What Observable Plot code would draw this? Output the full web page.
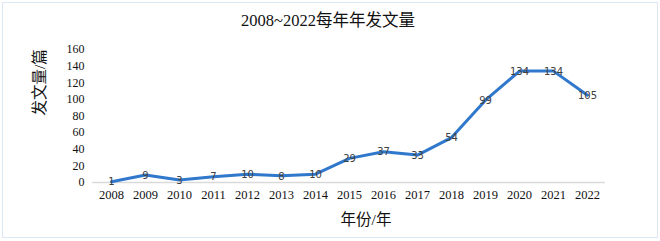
<!DOCTYPE html>
<html>
<head>
<meta charset="utf-8">
<script src="https://cdn.jsdelivr.net/npm/d3@7"></script>
<script src="https://cdn.jsdelivr.net/npm/@observablehq/plot@0.6"></script>
<style>
  html, body { margin: 0; padding: 0; background: #fff; }
  #wrap { position: relative; width: 660px; height: 241px; overflow: hidden; }
  #border { position: absolute; left: 2px; top: 2px; width: 654px; height: 234px; border: 1.5px solid #dce8f4; pointer-events: none; }
</style>
</head>
<body>
<div id="wrap"><div id="border"></div></div>
<script>
const years = ["2008","2009","2010","2011","2012","2013","2014","2015","2016","2017","2018","2019","2020","2021","2022"];
const counts = [1, 9, 3, 7, 10, 8, 10, 29, 37, 33, 54, 99, 134, 134, 105];
const yTicks = [0, 20, 40, 60, 80, 100, 120, 140, 160];
const title = "2008~2022每年年发文量";
const xTitle = "年份/年";
const yTitle = "发文量/篇";

const data = years.map((y, i) => ({year: y, count: counts[i]}));
const serif = "'Liberation Serif', 'Times New Roman', 'Noto Sans CJK SC', serif";

const chart = Plot.plot({
  width: 660,
  height: 241,
  marginTop: 49,
  marginBottom: 59,
  marginLeft: 92,
  marginRight: 55,
  style: {fontFamily: serif, background: "transparent"},
  x: {type: "point", domain: years, padding: 0.5, align: 0.5, label: null},
  y: {domain: [0, 160], label: null},
  marks: [
    Plot.ruleY([0], {stroke: "#d9d9d9", strokeWidth: 1.5}),
    Plot.axisY({ticks: yTicks, tickSize: 0, tickPadding: 8, fontSize: 12, fill: "#111", label: null}),
    Plot.axisX({tickSize: 0, tickPadding: 8, fontSize: 12.5, fill: "#111", label: null}),
    Plot.line(data, {x: "year", y: "count", stroke: "#2f78cc", strokeWidth: 3, strokeLinejoin: "round"}),
    Plot.text(data, {x: "year", y: "count", text: d => String(d.count), fontFamily: "'DejaVu Sans', sans-serif", fontSize: 10, fill: "#404040", dy: 0.5}),
    Plot.text([title], {frameAnchor: "top", lineAnchor: "middle", text: d => d, dy: -29, dx: -21, fontSize: 16.5, fill: "#111", fontFamily: serif}),
    Plot.text([xTitle], {frameAnchor: "bottom", lineAnchor: "middle", text: d => d, dy: 38, dx: 17, fontSize: 15.5, fill: "#111", fontFamily: serif}),
    Plot.text([yTitle], {frameAnchor: "left", text: d => d, dx: -52, dy: -0.5, rotate: -90, fontSize: 15.5, fill: "#111", fontFamily: serif})
  ]
});
document.getElementById("wrap").prepend(chart);
</script>
</body>
</html>
